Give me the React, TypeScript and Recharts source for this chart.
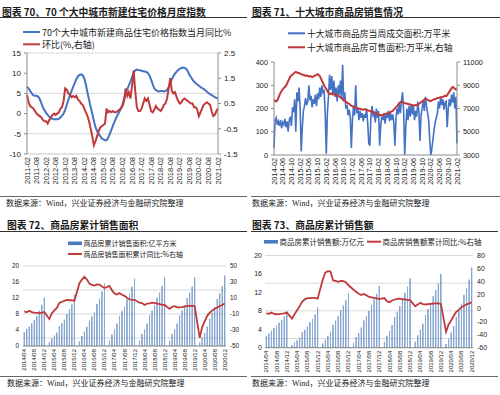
import React from 'react';
import { ComposedChart, Line, Bar, XAxis, YAxis, CartesianGrid } from 'recharts';

const NUM_FONT = "'Liberation Sans', Arial, sans-serif";
const CJK_FONT = "'Noto Sans CJK SC', 'Noto Sans', sans-serif";
const SRC_FONT = "'Liberation Serif', 'Noto Sans CJK SC', serif";
const BLUE = '#4472C4';
const RED = '#C0393B';
const AXIS = '#8C8C8C';
const GRID = '#D9D9D9';
const INK = '#1A1A1A';

// ---------------- 图表70 (monthly 2011-02 .. 2021-02) ----------------
const c70TickLabels = [
  '2011-02', '2011-08', '2012-02', '2012-08', '2013-02', '2013-08', '2014-02', '2014-08',
  '2015-02', '2015-08', '2016-02', '2016-08', '2017-02', '2017-08', '2018-02', '2018-08',
  '2019-02', '2019-08', '2020-02', '2020-08', '2021-02',
];
const c70Yoy = [
  6.7, 6.2, 5.6, 5.0, 4.5, 4.4, 4.4, 4.2, 3.6, 2.6, 1.6,
  0.8, 0.2, -0.3, -0.8, -1.1, -1.3, -1.4, -1.4, -1.4, -1.3, -1.0, -0.5,
  0.0, 1.0, 2.2, 3.5, 4.6, 5.6, 6.6, 7.6, 8.5, 9.2, 9.6, 9.7,
  9.5, 8.7, 7.2, 5.2, 3.4, 1.6, 0.0, -1.8, -3.3, -4.3, -5.0, -5.6,
  -6.1, -6.4, -6.6, -6.6, -6.0, -5.0, -4.0, -3.0, -2.0, -1.1, -0.3, 0.4,
  1.3, 2.3, 3.6, 5.0, 6.0, 7.0, 7.9, 9.0, 10.1, 10.7, 10.9, 10.8,
  10.7, 10.6, 10.5, 10.4, 10.3, 10.0, 9.4, 8.4, 7.2, 6.2, 5.8, 5.6,
  5.5, 5.6, 5.6, 5.5, 5.6, 5.9, 6.5, 7.4, 8.5, 9.3, 9.9, 10.4,
  10.8, 11.1, 11.3, 11.4, 11.3, 11.1, 10.5, 9.6, 9.0, 8.4, 7.9, 7.5,
  7.2, 6.9, 6.6, 6.3, 6.1, 5.8, 5.4, 5.1, 4.8, 4.6, 4.3, 4.1,
  3.9, 3.7,
];
const c70Mom = [
  0.85, 0.55, 0.4, 0.35, 0.3, 0.2, 0.1, 0.05, 0.0, -0.05, -0.15,
  -0.2, -0.2, -0.3, -0.15, -0.05, 0.05, 0.1, 0.05, 0.1, 0.15, 0.3, 0.35,
  0.6, 1.1, 1.05, 0.9, 0.85, 0.75, 0.8, 0.75, 0.8, 0.65, 0.6, 0.5,
  0.45, 0.3, 0.15, 0.0, -0.2, -0.5, -0.8, -1.15, -1.0, -0.8, -0.6, -0.45,
  -0.4, -0.35, -0.3, 0.3, 0.15, 0.2, 0.15, 0.2, 0.15, 0.15, 0.2, 0.25,
  0.3, 0.4, 0.6, 1.1, 0.8, 0.95, 0.7, 1.2, 1.8, 1.0, 0.35, 0.2,
  0.2, 0.3, 0.5, 0.7, 0.6, 0.7, 0.45, 0.2, 0.15, 0.25, 0.4, 0.3,
  0.25, 0.2, 0.3, 0.45, 0.5, 0.7, 1.1, 1.5, 1.0, 0.9, 0.95, 0.75,
  0.6, 0.5, 0.55, 0.65, 0.7, 0.65, 0.6, 0.55, 0.5, 0.5, 0.35, 0.35,
  0.25, 0.0, 0.15, 0.3, 0.45, 0.5, 0.55, 0.5, 0.45, 0.2, 0.0, 0.05,
  0.2, 0.3,
];

// ---------------- 图表71 (half-monthly samples 2014-02 .. 2021-02) ----------------
const c71TickLabels = [
  '2014-02', '2014-06', '2014-10', '2015-02', '2015-06', '2015-10', '2016-02', '2016-06',
  '2016-10', '2017-02', '2017-06', '2017-10', '2018-02', '2018-06', '2018-10', '2019-02',
  '2019-06', '2019-10', '2020-02', '2020-06', '2020-10', '2021-02',
];
const c71Deal = [
  30, 150, 160, 130, 145, 125, 150, 115,
  140, 130, 155, 120, 145, 100, 150, 165,
  125, 205, 185, 240, 100, 270, 230, 290,
  200, 15, 120, 190, 210, 245, 215, 230,
  300, 235, 255, 205, 240, 220, 260, 210,
  265, 240, 290, 250, 300, 270, 280, 180,
  5, 180, 250, 345, 280, 340, 260, 320,
  250, 290, 230, 300, 260, 320, 240, 388,
  230, 270, 200, 215, 170, 195, 165, 30,
  150, 210, 170, 300, 180, 200, 150, 190,
  160, 180, 145, 175, 160, 200, 140, 50,
  40, 165, 210, 170, 180, 140, 200, 160,
  190, 40, 130, 165, 150, 180, 135, 175,
  160, 190, 145, 180, 150, 175, 140, 40,
  160, 200, 175, 220, 180, 230, 270, 190,
  0, 120, 200, 150, 210, 165, 220, 175,
  210, 150, 190, 165, 230, 190, 60, 170,
  200, 235, 190, 250, 210, 180, 150, 60,
  0, 30, 70, 110, 140, 160, 180, 230,
  200, 250, 215, 240, 195, 225, 230, 120,
  200, 240, 210, 260, 225, 270, 200, 250,
  50,
];
const c71Stock = [
  7750, 7650, 7600, 7700, 7900, 8150, 8350, 8500,
  8650, 8750, 8850, 8950, 9150, 9350, 9550, 9750,
  9850, 9900, 10000, 10100, 10150, 10100, 10050, 10050,
  10000, 9950, 9900, 9900, 9850, 9800, 9850, 9800,
  9750, 9800, 9750, 9700, 9750, 9800, 9850, 9900,
  9950, 9900, 9800, 9600, 9400, 9200, 9000, 8800,
  8700, 8500, 8350, 8250, 8250, 8300, 8200, 8250,
  8200, 8150, 8100, 8100, 8050, 7950, 7900, 7800,
  7700, 7650, 7600, 7500, 7450, 7400, 7300, 7250,
  7200, 7150, 7100, 7050, 7050, 7000, 7000, 6950,
  6950, 6900, 6900, 6950, 6900, 6850, 6850, 6800,
  6800, 6750, 6750, 6700, 6650, 6600, 6550, 6500,
  6450, 6450, 6400, 6450, 6450, 6500, 6500, 6550,
  6600, 6600, 6650, 6700, 6750, 6800, 6900, 7000,
  7100, 7200, 7350, 7450, 7550, 7600, 7550, 7500,
  7450, 7450, 7400, 7400, 7350, 7350, 7300, 7300,
  7250, 7250, 7300, 7300, 7350, 7400, 7450, 7550,
  7600, 7700, 7750, 7850, 7800, 7750, 7700, 7650,
  7650, 7700, 7750, 7800, 7800, 7850, 7900, 7900,
  7950, 7950, 8000, 8000, 8050, 8100, 8050, 8150,
  8300, 8450, 8600, 8750, 8850, 8800, 8700, 8650,
  8600,
];

// ---------------- 图表72 / 73 (monthly 2014/04 .. 2020/12) ----------------
const c7273Years = [2014, 2015, 2016, 2017, 2018, 2019, 2020];
const c72Area = [
  3.5, 4.3, 4.9, 5.7, 6.5, 7.5, 8.9, 10.3, 12.1,
  null, 0.95, 1.9, 2.6, 3.4, 5.0, 5.7, 6.6, 8.0, 9.2, 10.4, 12.8,
  null, 1.2, 2.5, 3.6, 4.8, 6.4, 7.4, 8.4, 10.5, 11.9, 13.6, 15.7,
  null, 1.4, 2.9, 4.2, 5.6, 7.5, 8.7, 9.9, 11.7, 13.1, 14.8, 16.9,
  null, 1.4, 3.0, 4.2, 5.6, 7.7, 8.9, 10.3, 12.1, 13.4, 15.0, 17.2,
  null, 1.4, 3.0, 4.2, 5.6, 7.6, 8.9, 10.1, 12.0, 13.3, 14.9, 17.2,
  null, 0.85, 2.2, 3.3, 4.9, 6.9, 8.3, 9.7, 11.8, 13.2, 15.0, 17.6,
];
const c72Yoy = [
  -6.8, -7.8, -6.0, -7.6, -8.3, -8.6, -8.9, -8.2, -7.6,
  null, -16.3, -9.2, -5.4, -2.4, 3.9, 5.3, 6.5, 7.5, 7.2, 7.4, 6.5,
  null, 28.2, 33.1, 36.5, 33.2, 27.9, 26.4, 25.5, 26.9, 26.8, 24.3, 22.5,
  null, 25.1, 19.5, 15.7, 14.3, 16.1, 14.0, 12.7, 10.3, 8.2, 7.9, 7.7,
  null, 4.1, 3.6, 1.3, 2.9, 3.3, 4.2, 4.0, 2.9, 2.2, 1.4, 1.3,
  null, -3.6, -0.9, -0.3, -1.6, -1.8, -1.3, -0.6, -0.1, 0.1, 0.2, -0.1,
  null, -39.9, -26.3, -19.3, -12.3, -8.4, -5.8, -3.3, -1.8, 0.0, 1.3, 3.2,
];
const c73Amount = [
  2.5, 3.1, 3.7, 4.2, 4.8, 5.4, 6.0, 6.8, 7.6,
  null, 0.6, 1.2, 1.6, 2.2, 3.4, 3.9, 4.6, 5.5, 6.3, 7.2, 8.7,
  null, 0.9, 1.8, 2.6, 3.5, 5.0, 5.9, 6.8, 8.2, 9.2, 10.3, 11.8,
  null, 1.1, 2.3, 3.2, 4.4, 5.9, 6.9, 8.0, 9.3, 10.5, 11.7, 13.4,
  null, 1.3, 2.6, 3.6, 4.9, 6.7, 7.8, 9.1, 10.7, 11.9, 13.3, 15.0,
  null, 1.3, 2.7, 3.9, 5.2, 7.1, 8.4, 9.7, 11.2, 12.5, 13.9, 16.0,
  null, 0.8, 2.0, 3.3, 4.7, 6.7, 8.1, 9.6, 11.5, 12.9, 14.8, 17.4,
];
const c73Yoy = [
  -7.8, -8.5, -6.7, -8.8, -9.2, -8.9, -8.4, -7.8, -6.3,
  null, -15.8, -9.3, -3.2, 3.1, 10.0, 13.4, 15.3, 15.3, 15.7, 15.6, 14.4,
  null, 43.6, 54.1, 56.2, 55.6, 42.1, 41.3, 40.0, 41.3, 41.2, 39.3, 34.8,
  null, 28.0, 25.0, 22.0, 20.0, 21.5, 19.5, 17.0, 16.5, 15.5, 15.0, 13.7,
  null, 15.3, 10.4, 8.9, 11.7, 13.2, 14.1, 14.5, 13.3, 13.7, 12.1, 12.2,
  null, 2.8, 5.6, 8.1, 6.1, 5.6, 6.2, 6.7, 7.1, 7.3, 7.3, 6.5,
  null, -35.9, -24.7, -18.6, -11.6, -5.4, -2.1, 1.6, 3.7, 5.8, 7.2, 8.7,
];

// category strings for 72/73
const c7273Months: string[] = [];
c7273Years.forEach((y) => {
  for (let m = 1; m <= 12; m++) {
    if (y === 2014 && m < 4) continue;
    c7273Months.push(`${y}/${m < 10 ? '0' + m : m}`);
  }
});

const c70Data = c70Yoy.map((v, i) => ({ i, yoy: v, mom: c70Mom[i] }));
const c70Ticks = c70TickLabels.map((_, k) => k * 6);
const c71Data = c71Deal.map((v, i) => ({ i, deal: v, stock: c71Stock[i] }));
const c71Ticks = c71TickLabels.map((_, k) => k * 8);
const c72Data = c7273Months.map((m, i) => ({ m, area: c72Area[i], yoy: c72Yoy[i] }));
const c73Data = c7273Months.map((m, i) => ({ m, amt: c73Amount[i], yoy: c73Yoy[i] }));

function RotTick(props: any) {
  const { x, y, payload, fs, fmt } = props;
  const label = fmt ? fmt(payload.value) : String(payload.value);
  return (
    <text
      transform={`translate(${x},${y}) rotate(-90)`}
      textAnchor="end"
      dominantBaseline="central"
      fontSize={fs}
      fill={INK}
      fontFamily={NUM_FONT}
    >
      {label}
    </text>
  );
}

const numTick = (fs: number) => ({ fontSize: fs, fill: INK, fontFamily: NUM_FONT });

function Chart70() {
  return (
    <ComposedChart width={250} height={190} data={c70Data} margin={{ top: 53, right: 0, bottom: 0, left: 0 }}>
      <CartesianGrid yAxisId="l" vertical={false} stroke={GRID} />
      <XAxis
        dataKey="i"
        type="number"
        domain={[0, 120]}
        ticks={c70Ticks}
        interval={0}
        height={36}
        tickSize={0}
        tickMargin={3}
        stroke={GRID}
        tick={<RotTick fs={7.5} fmt={(v: number) => c70TickLabels[Math.round(v / 6)]} />}
      />
      <YAxis yAxisId="l" domain={[-10, 15]} ticks={[-10, -5, 0, 5, 10, 15]} width={27} tickSize={3} tickMargin={3} stroke={AXIS} tick={numTick(8)} />
      <YAxis
        yAxisId="r"
        orientation="right"
        domain={[-1.5, 2.5]}
        ticks={[-1.5, -1, -0.5, 0, 0.5, 1, 1.5, 2, 2.5]}
        width={32}
        tickSize={3}
        tickMargin={3}
        stroke={AXIS}
        tick={numTick(8)}
      />
      <Line yAxisId="l" dataKey="yoy" stroke={BLUE} strokeWidth={2} dot={false} isAnimationActive={false} />
      <Line yAxisId="r" dataKey="mom" stroke={RED} strokeWidth={2} dot={false} isAnimationActive={false} />
    </ComposedChart>
  );
}

function Chart71() {
  return (
    <ComposedChart width={250} height={190} data={c71Data} margin={{ top: 62, right: 0, bottom: 0, left: 0 }}>
      <XAxis
        dataKey="i"
        type="number"
        domain={[0, 168]}
        ticks={c71Ticks}
        interval={0}
        height={35}
        tickSize={0}
        tickMargin={3}
        stroke={AXIS}
        tick={<RotTick fs={7.3} fmt={(v: number) => c71TickLabels[Math.round(v / 8)]} />}
      />
      <YAxis yAxisId="l" domain={[0, 400]} ticks={[0, 50, 100, 150, 200, 250, 300, 350, 400]} width={24} tickSize={3} tickMargin={3} stroke={AXIS} tick={numTick(7.3)} />
      <YAxis
        yAxisId="r"
        orientation="right"
        domain={[3000, 11000]}
        ticks={[3000, 4000, 5000, 6000, 7000, 8000, 9000, 10000, 11000]}
        width={43}
        tickSize={3}
        tickMargin={3}
        stroke={AXIS}
        tick={numTick(7.3)}
      />
      <Line yAxisId="l" dataKey="deal" stroke={BLUE} strokeWidth={1.6} dot={false} isAnimationActive={false} />
      <Line yAxisId="r" dataKey="stock" stroke={RED} strokeWidth={2} dot={false} isAnimationActive={false} />
    </ComposedChart>
  );
}

function BarGrad({ id }: { id: string }) {
  return (
    <defs>
      <linearGradient id={id} x1="0" y1="0" x2="1" y2="0">
        <stop offset="0" stopColor="#2F5E9E" />
        <stop offset="0.5" stopColor="#86ADDD" />
        <stop offset="1" stopColor="#3A6BB0" />
      </linearGradient>
    </defs>
  );
}

function Chart72() {
  return (
    <ComposedChart width={250} height={175} data={c72Data} margin={{ top: 66, right: 0, bottom: 0, left: 0 }} barCategoryGap="30%">
      <BarGrad id="g72" />
      <CartesianGrid yAxisId="l" vertical={false} stroke={GRID} />
      <XAxis dataKey="m" interval={3} height={29} tickSize={0} tickMargin={3} stroke={AXIS} tick={<RotTick fs={6} />} />
      <YAxis yAxisId="l" domain={[0, 20]} ticks={[0, 2, 4, 6, 8, 10, 12, 14, 16, 18, 20]} width={23} tickSize={0} tickMargin={4} axisLine={false} tick={numTick(6.3)} />
      <YAxis
        yAxisId="r"
        orientation="right"
        domain={[-50, 50]}
        ticks={[-50, -40, -30, -20, -10, 0, 10, 20, 30, 40, 50]}
        width={24}
        tickSize={0}
        tickMargin={4}
        axisLine={false}
        tick={numTick(6.3)}
      />
      <Bar yAxisId="l" dataKey="area" fill="url(#g72)" isAnimationActive={false} />
      <Line yAxisId="r" dataKey="yoy" stroke={RED} strokeWidth={1.8} dot={false} connectNulls isAnimationActive={false} />
    </ComposedChart>
  );
}

function Chart73() {
  return (
    <ComposedChart width={250} height={175} data={c73Data} margin={{ top: 55.5, right: 0, bottom: 0, left: 0 }} barCategoryGap="30%">
      <BarGrad id="g73" />
      <CartesianGrid yAxisId="l" vertical={false} stroke={GRID} />
      <XAxis dataKey="m" interval={3} height={27.3} tickSize={0} tickMargin={3} stroke={AXIS} tick={<RotTick fs={6} />} />
      <YAxis yAxisId="l" domain={[0, 20]} ticks={[0, 2, 4, 6, 8, 10, 12, 14, 16, 18, 20]} width={15} tickSize={0} tickMargin={3} axisLine={false} tick={numTick(7)} />
      <YAxis
        yAxisId="r"
        orientation="right"
        domain={[-60, 80]}
        ticks={[-60, -40, -20, 0, 20, 40, 60, 80]}
        width={27}
        tickSize={0}
        tickMargin={4}
        axisLine={false}
        tick={numTick(7)}
      />
      <Bar yAxisId="l" dataKey="amt" fill="url(#g73)" isAnimationActive={false} />
      <Line yAxisId="r" dataKey="yoy" stroke={RED} strokeWidth={1.8} dot={false} connectNulls isAnimationActive={false} />
    </ComposedChart>
  );
}

const titleProps = { fontSize: 9.8, fontWeight: 700, fontFamily: CJK_FONT, fill: INK, dominantBaseline: 'central' as const };
const srcProps = { fontSize: 8, fontFamily: SRC_FONT, fill: '#222', dominantBaseline: 'central' as const };
const legProps = (fs: number) => ({ fontSize: fs, fontFamily: CJK_FONT, fill: INK, dominantBaseline: 'central' as const });

function Decor() {
  return (
    <svg width={500} height={395} style={{ position: 'absolute', left: 0, top: 0 }}>
      {/* titles */}
      <text x={2} y={12} {...titleProps}>图表 70、70 个大中城市新建住宅价格月度指数</text>
      <text x={252} y={12} {...titleProps}>图表 71、十大城市商品房销售情况</text>
      <text x={7} y={225} {...titleProps}>图表 72、商品房累计销售面积</text>
      <text x={252} y={225} {...titleProps}>图表 73、商品房累计销售额</text>
      {/* rules */}
      <line x1={0} y1={17.5} x2={247} y2={17.5} stroke="#333" />
      <line x1={251} y1={17.5} x2={500} y2={17.5} stroke="#333" />
      <line x1={0} y1={231.5} x2={247} y2={231.5} stroke="#333" />
      <line x1={251} y1={231.5} x2={498} y2={231.5} stroke="#333" />
      <line x1={0} y1={196.5} x2={247} y2={196.5} stroke="#666" />
      <line x1={251} y1={196.5} x2={500} y2={196.5} stroke="#666" />
      <line x1={0} y1={376.5} x2={247} y2={376.5} stroke="#666" />
      <line x1={251} y1={376.5} x2={498} y2={376.5} stroke="#666" />
      {/* sources */}
      <text x={6} y={203} {...srcProps}>数据来源：Wind，兴业证券经济与金融研究院整理</text>
      <text x={252} y={203} {...srcProps}>数据来源：Wind，兴业证券经济与金融研究院整理</text>
      <text x={7} y={383} {...srcProps}>数据来源：Wind，兴业证券经济与金融研究院整理</text>
      <text x={252} y={383} {...srcProps}>数据来源：Wind，兴业证券经济与金融研究院整理</text>
      {/* legend 70 */}
      <line x1={23} y1={32} x2={40} y2={32} stroke={BLUE} strokeWidth={2} />
      <text x={42} y={32} {...legProps(9)}>70个大中城市新建商品住宅价格指数当月同比%</text>
      <line x1={23} y1={44.3} x2={40} y2={44.3} stroke={RED} strokeWidth={2} />
      <text x={42} y={44.3} {...legProps(9)}>环比(%,右轴)</text>
      {/* legend 71 */}
      <line x1={288} y1={33.3} x2={305} y2={33.3} stroke={BLUE} strokeWidth={2} />
      <text x={307} y={33.3} {...legProps(8.8)}>十大城市商品房当周成交面积:万平米</text>
      <line x1={288} y1={47.3} x2={305} y2={47.3} stroke={RED} strokeWidth={2} />
      <text x={307} y={47.3} {...legProps(8.8)}>十大城市商品房可售面积:万平米,右轴</text>
      {/* legend 72 */}
      <rect x={68} y={241.5} width={14} height={3.6} fill="#4A7BC0" />
      <text x={83.5} y={243.3} {...legProps(7)}>商品房累计销售面积:亿平方米</text>
      <line x1={68} y1={254} x2={82} y2={254} stroke={RED} strokeWidth={2} />
      <text x={83.5} y={254} {...legProps(7)}>商品房销售面积累计同比:%右轴</text>
      {/* legend 73 */}
      <rect x={264} y={240} width={14} height={3.6} fill="#4A7BC0" />
      <text x={279.5} y={241.7} {...legProps(7.5)}>商品房累计销售额:万亿元</text>
      <line x1={367} y1={241.7} x2={381} y2={241.7} stroke={RED} strokeWidth={2} />
      <text x={382.5} y={241.7} {...legProps(7.5)}>商品房销售额累计同比:%右轴</text>
    </svg>
  );
}

export default function App() {
  return (
    <div style={{ position: 'absolute', left: 0, top: 0, width: 500, height: 395, background: '#fff', overflow: 'hidden' }}>
      <Decor />
      <div style={{ position: 'absolute', left: 0, top: 0 }}>
        <Chart70 />
      </div>
      <div style={{ position: 'absolute', left: 250, top: 0 }}>
        <Chart71 />
      </div>
      <div style={{ position: 'absolute', left: 0, top: 200 }}>
        <Chart72 />
      </div>
      <div style={{ position: 'absolute', left: 250, top: 200 }}>
        <Chart73 />
      </div>
    </div>
  );
}
